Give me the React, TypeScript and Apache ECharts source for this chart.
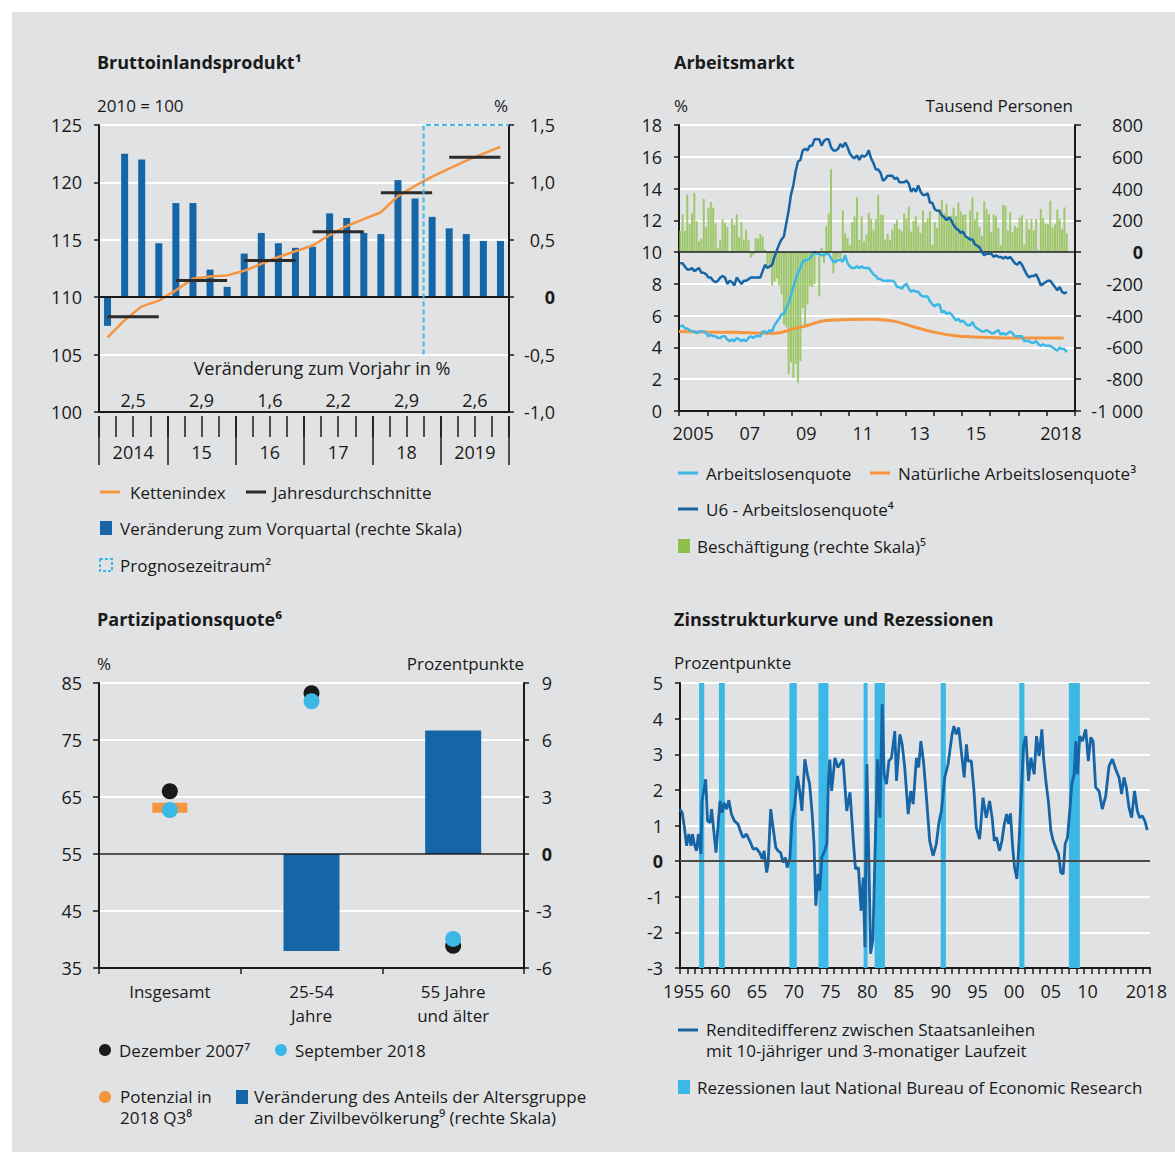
import React, { useEffect, useRef } from "react";
import * as echarts from "echarts";

const FONT = '"Open Sans", "DejaVu Sans", sans-serif';
const TXT = "#1a1a1a";
const BG = "#e1e2e4";
const DARK = "#1565a7";
const LIGHT = "#3bb8e5";
const ORANGE = "#f5953f";
const GREEN = "#8fc04c";
const AXIS = "#1a1a1a";

// ---------- Panel 1: Bruttoinlandsprodukt ----------
const gdpQuarters = [
  "Q1 2014", "Q2 2014", "Q3 2014", "Q4 2014",
  "Q1 2015", "Q2 2015", "Q3 2015", "Q4 2015",
  "Q1 2016", "Q2 2016", "Q3 2016", "Q4 2016",
  "Q1 2017", "Q2 2017", "Q3 2017", "Q4 2017",
  "Q1 2018", "Q2 2018", "Q3 2018", "Q4 2018",
  "Q1 2019", "Q2 2019", "Q3 2019", "Q4 2019",
];
const gdpYearLabels = ["2014", "15", "16", "17", "18", "2019"];
const gdpQoQ = [-0.25, 1.25, 1.2, 0.47, 0.82, 0.82, 0.24, 0.09, 0.38, 0.56, 0.47, 0.43, 0.44, 0.73, 0.69, 0.56, 0.55, 1.02, 0.86, 0.7, 0.6, 0.55, 0.49, 0.49];
const gdpIndex = [106.5, 108.0, 109.2, 109.7, 110.6, 111.6, 111.8, 111.9, 112.3, 112.9, 113.5, 114.0, 114.5, 115.4, 116.2, 116.8, 117.4, 118.8, 119.7, 120.5, 121.2, 121.9, 122.5, 123.1];
const gdpYearAvg = [108.3, 111.45, 113.2, 115.7, 119.1, 122.2];
const gdpYoY = ["2,5", "2,9", "1,6", "2,2", "2,9", "2,6"];
const forecastStartIndex = 19;

// ---------- Panel 2: Arbeitsmarkt (monthly from Jan 2005) ----------
const laborYears = ["2005", "2006", "2007", "2008", "2009", "2010", "2011", "2012", "2013", "2014", "2015", "2016", "2017", "2018"];
const laborYearLabels: Record<string, string> = { "2005": "2005", "2007": "07", "2009": "09", "2011": "11", "2013": "13", "2015": "15", "2018": "2018" };
const unemployment = [
  5.3, 5.4, 5.2, 5.2, 5.1, 5.0, 5.0, 4.9, 5.0, 5.0, 5.0, 4.9,
  4.7, 4.8, 4.7, 4.7, 4.6, 4.6, 4.7, 4.7, 4.5, 4.4, 4.5, 4.4,
  4.6, 4.5, 4.4, 4.5, 4.4, 4.6, 4.7, 4.6, 4.7, 4.7, 4.7, 5.0,
  5.0, 4.9, 5.1, 5.0, 5.4, 5.6, 5.8, 6.1, 6.1, 6.5, 6.8, 7.3,
  7.8, 8.3, 8.7, 9.0, 9.4, 9.5, 9.5, 9.6, 9.8, 10.0, 9.9, 9.9,
  9.8, 9.8, 9.9, 9.9, 9.6, 9.4, 9.4, 9.5, 9.5, 9.4, 9.8, 9.3,
  9.1, 9.0, 9.0, 9.1, 9.0, 9.1, 9.0, 9.0, 9.0, 8.8, 8.6, 8.5,
  8.3, 8.3, 8.2, 8.2, 8.2, 8.2, 8.2, 8.1, 7.8, 7.8, 7.7, 7.9,
  8.0, 7.7, 7.5, 7.6, 7.5, 7.5, 7.3, 7.2, 7.2, 7.2, 6.9, 6.7,
  6.6, 6.7, 6.7, 6.2, 6.3, 6.1, 6.2, 6.1, 5.9, 5.7, 5.8, 5.6,
  5.7, 5.5, 5.4, 5.4, 5.6, 5.3, 5.2, 5.1, 5.0, 5.0, 5.1, 5.0,
  4.9, 4.9, 5.0, 5.1, 4.8, 4.9, 4.8, 4.9, 5.0, 4.9, 4.7, 4.7,
  4.7, 4.7, 4.4, 4.4, 4.4, 4.3, 4.3, 4.4, 4.2, 4.1, 4.2, 4.1,
  4.1, 4.1, 4.0, 3.9, 3.8, 4.0, 3.9, 3.9, 3.7,
];
const u6Rate = [
  9.3, 9.3, 9.1, 8.9, 8.9, 9.0, 8.8, 8.9, 9.0, 8.7, 8.7, 8.6,
  8.4, 8.4, 8.2, 8.1, 8.2, 8.4, 8.5, 8.4, 8.0, 8.2, 8.1, 7.9,
  8.4, 8.2, 8.0, 8.2, 8.2, 8.3, 8.4, 8.4, 8.4, 8.4, 8.4, 8.8,
  9.2, 9.0, 9.1, 9.2, 9.7, 10.1, 10.5, 10.8, 11.0, 11.8, 12.6, 13.6,
  14.2, 15.1, 15.7, 15.8, 16.4, 16.5, 16.4, 16.7, 16.7, 17.1, 17.1, 17.1,
  16.7, 17.0, 17.1, 17.1, 16.6, 16.4, 16.4, 16.5, 16.8, 16.6, 16.9, 16.6,
  16.2, 16.0, 15.9, 16.1, 15.8, 16.1, 16.0, 16.1, 16.4, 15.9, 15.6, 15.2,
  15.2, 15.0, 14.5, 14.6, 14.8, 14.8, 14.8, 14.6, 14.7, 14.4, 14.4, 14.4,
  14.5, 14.3, 13.8, 14.0, 13.8, 14.2, 13.8, 13.6, 13.6, 13.7, 13.1, 13.1,
  12.7, 12.6, 12.6, 12.3, 12.2, 12.0, 12.2, 12.0, 11.7, 11.5, 11.4, 11.2,
  11.3, 11.0, 10.9, 10.8, 10.8, 10.5, 10.4, 10.3, 10.0, 9.8, 9.9, 9.9,
  9.9, 9.7, 9.8, 9.7, 9.7, 9.6, 9.7, 9.6, 9.7, 9.5, 9.3, 9.2,
  9.4, 9.2, 8.9, 8.6, 8.4, 8.5, 8.5, 8.6, 8.3, 7.9, 8.0, 8.1,
  8.2, 8.2, 8.0, 7.8, 7.6, 7.8, 7.5, 7.4, 7.5,
];
const naturalRate: [number, number][] = [
  [2005.0, 5.0], [2006.0, 4.97], [2007.0, 4.95], [2008.0, 4.9], [2008.4, 4.9], [2009.1, 5.2], [2009.57, 5.4],
  [2010.04, 5.65], [2010.5, 5.72], [2011.0, 5.76], [2011.93, 5.78], [2012.3, 5.72], [2012.64, 5.64], [2013.35, 5.27],
  [2014.05, 4.95], [2014.76, 4.74], [2015.46, 4.66], [2016.63, 4.6], [2018.6, 4.6],
];
const payrolls = [
  134, 239, 134, 363, 175, 243, 373, 194, 69, 84, 334, 157,
  277, 315, 280, 182, 23, 77, 207, 184, 157, 2, 210, 171,
  238, 93, 190, 80, 143, 75, -34, -20, 88, 84, 114, 98,
  17, -84, -78, -210, -185, -165, -209, -266, -452, -473, -769, -695,
  -791, -703, -823, -686, -351, -470, -329, -212, -219, -200, -7, -279,
  28, -69, 163, 243, 522, -133, -70, -34, -52, 262, 119, 87,
  43, 189, 225, 346, 77, 225, 69, 110, 248, 209, 141, 209,
  358, 237, 233, 78, 115, 76, 143, 177, 203, 146, 132, 244,
  211, 286, 130, 197, 226, 162, 122, 261, 190, 212, 258, 47,
  190, 151, 272, 329, 246, 304, 202, 230, 280, 227, 312, 255,
  234, 238, 86, 262, 344, 206, 254, 157, 100, 321, 272, 239,
  126, 237, 225, 153, 43, 297, 291, 135, 249, 124, 164, 155,
  216, 232, 50, 207, 145, 210, 138, 208, 14, 271, 216, 175,
  176, 324, 155, 175, 268, 208, 147, 282, 118,
];

// ---------- Panel 3: Partizipationsquote ----------
const partCategories = ["Insgesamt", "25-54\nJahre", "55 Jahre\nund älter"];
const partDec2007 = [66.0, 83.2, 38.9];
const partSep2018 = [62.7, 81.8, 40.1];
const partPotential = [63.1, null, null];
const partShareChange = [null, -5.1, 6.5];

// ---------- Panel 4: Zinsstrukturkurve ----------
const spreadYears = Array.from({ length: 64 }, (_, i) => String(1955 + i));
const spreadYearLabels: Record<string, string> = {
  "1955": "1955", "1960": "60", "1965": "65", "1970": "70", "1975": "75", "1980": "80", "1985": "85",
  "1990": "90", "1995": "95", "2000": "00", "2005": "05", "2010": "10", "2018": "2018",
};
const yieldSpread: [number, number][] = [
  [1955.0, 1.46], [1955.3, 1.36], [1955.6, 0.94], [1955.9, 0.43], [1956.2, 0.76], [1956.5, 0.43], [1956.7, 0.76], [1956.95, 0.48],
  [1957.25, 0.29], [1957.5, 0.76], [1957.85, 0.2], [1958.0, 1.69], [1958.5, 2.3], [1958.75, 1.13], [1959.1, 1.08], [1959.3, 1.46],
  [1959.6, 0.85], [1959.9, 0.24], [1960.2, 1.04], [1960.45, 1.69], [1960.75, 1.36], [1961.0, 1.64], [1961.35, 1.46], [1961.65, 1.71],
  [1962.0, 1.32], [1962.4, 1.13], [1962.9, 1.04], [1963.3, 0.8], [1963.6, 0.66], [1964.05, 0.76], [1964.5, 0.57], [1964.95, 0.34],
  [1965.4, 0.36], [1965.85, 0.24], [1966.2, 0.06], [1966.45, 0.29], [1966.8, -0.32], [1967.0, -0.08], [1967.35, 1.46], [1967.7, 0.9],
  [1968.05, 0.38], [1968.35, 0.29], [1968.7, 0.24], [1969.05, -0.04], [1969.35, 0.1], [1969.6, -0.18], [1969.95, 0.06], [1970.25, 1.13],
  [1970.6, 1.55], [1971.0, 2.39], [1971.3, 1.97], [1971.6, 1.41], [1972.0, 2.86], [1972.35, 2.44], [1972.65, 2.16], [1973.0, 1.32],
  [1973.25, 0.48], [1973.5, -1.25], [1973.8, -0.36], [1974.05, -0.83], [1974.3, 0.1], [1974.7, 0.29], [1975.0, 0.5], [1975.2, 2.2],
  [1975.4, 2.85], [1975.65, 1.97], [1976.1, 2.9], [1976.5, 2.63], [1976.8, 2.72], [1977.2, 2.86], [1977.7, 1.41], [1978.15, 1.93],
  [1978.6, 0.57], [1978.9, -0.22], [1979.3, -0.18], [1979.65, -1.39], [1979.95, -0.46], [1980.18, -2.42], [1980.45, 2.72], [1980.72, 0.01],
  [1980.95, -2.6], [1981.27, -2.2], [1981.54, 0.1], [1981.9, 2.86], [1982.22, 1.22], [1982.53, 4.4], [1982.8, 2.44], [1983.12, 2.16],
  [1983.44, 2.81], [1983.8, 2.9], [1984.25, 3.65], [1984.48, 2.25], [1984.93, 3.56], [1985.25, 3.28], [1985.6, 2.63], [1986.07, 1.32],
  [1986.43, 1.97], [1986.75, 1.6], [1987.2, 2.9], [1987.5, 2.63], [1987.8, 3.37], [1988.15, 2.81], [1988.56, 1.78], [1989.0, 0.57],
  [1989.46, 0.15], [1989.9, 0.48], [1990.23, 1.04], [1990.6, 1.41], [1991.05, 2.35], [1991.5, 2.72], [1992.05, 3.56], [1992.3, 3.79],
  [1992.6, 3.56], [1992.95, 3.75], [1993.3, 3.09], [1993.7, 2.35], [1994.0, 3.28], [1994.22, 2.81], [1994.67, 2.81], [1995.03, 1.97],
  [1995.35, 0.94], [1995.8, 0.62], [1996.26, 1.78], [1996.7, 1.22], [1997.16, 1.69], [1997.5, 1.22], [1997.8, 0.57], [1998.1, 0.66],
  [1998.5, 0.29], [1998.84, 0.57], [1999.16, 1.04], [1999.48, 1.32], [1999.75, 1.04], [2000.0, 1.34], [2000.3, 0.38], [2000.56, -0.18],
  [2000.88, -0.5], [2001.2, 0.66], [2001.42, 1.69], [2001.8, 3.28], [2002.1, 3.51], [2002.46, 2.25], [2002.78, 2.9], [2003.23, 2.44],
  [2003.55, 3.51], [2003.9, 2.95], [2004.28, 3.7], [2004.5, 2.9], [2004.82, 2.25], [2005.18, 1.64], [2005.5, 0.85], [2005.82, 0.57],
  [2006.18, 0.38], [2006.54, 0.2], [2006.86, -0.32], [2007.17, -0.36], [2007.45, 0.48], [2007.76, 0.66], [2008.08, 1.41], [2008.35, 2.16],
  [2008.67, 2.44], [2008.9, 3.37], [2009.12, 2.44], [2009.44, 3.51], [2009.8, 3.37], [2010.25, 3.7], [2010.6, 2.81], [2010.93, 3.47],
  [2011.25, 3.37], [2011.6, 2.07], [2012.06, 1.97], [2012.5, 1.46], [2012.97, 1.83], [2013.42, 2.67], [2013.88, 2.86], [2014.33, 2.58],
  [2014.78, 2.35], [2015.14, 1.88], [2015.46, 2.35], [2015.78, 2.07], [2016.14, 1.5], [2016.5, 1.22], [2016.9, 1.97], [2017.27, 1.41],
  [2017.6, 1.22], [2017.95, 1.27], [2018.3, 1.13], [2018.63, 0.87],
];
const recessions: [number, number][] = [
  [1957.6, 1958.3], [1960.3, 1961.1], [1969.9, 1970.9], [1973.85, 1975.2], [1980.0, 1980.55],
  [1981.5, 1982.9], [1990.5, 1991.2], [2001.2, 2001.9], [2007.95, 2009.45],
];

// ---------- helpers ----------
const labelStyle = (extra: any = {}) => ({ color: TXT, fontFamily: FONT, fontSize: 18, ...extra });
const boldRich = { b: { color: TXT, fontFamily: FONT, fontSize: 18, fontWeight: "bold" } };
const axisLine = { show: true, onZero: false, lineStyle: { color: AXIS, width: 2 } };
const gridLine = { show: true, lineStyle: { color: "#ffffff", width: 2 } };
const tick = (len: number) => ({ show: true, length: len, lineStyle: { color: AXIS, width: 1.5 } });
const monthX = (i: number) => 2005 + (i + 0.5) / 12;

const txt = (text: string, x: number, y: number, opts: any = {}) => ({
  type: "text",
  x,
  y,
  silent: true,
  style: {
    text,
    fill: TXT,
    fontFamily: FONT,
    fontSize: opts.fontSize ?? 17,
    fontWeight: opts.bold ? "bold" : "normal",
    align: opts.align ?? "left",
    verticalAlign: "middle",
    lineHeight: opts.lineHeight ?? 21,
  },
});
const legLine = (x: number, y: number, color: string) => ({
  type: "line", silent: true, shape: { x1: x, y1: y, x2: x + 20, y2: y }, style: { stroke: color, lineWidth: 3 },
});
const legRect = (x: number, y: number, color: string) => ({
  type: "rect", silent: true, shape: { x, y: y - 7, width: 12, height: 14 }, style: { fill: color },
});
const legDot = (x: number, y: number, color: string) => ({
  type: "circle", silent: true, shape: { cx: x, cy: y, r: 6 }, style: { fill: color },
});

function buildOption(): any {
  const grids = [
    { left: 99, top: 125, width: 410, height: 287 },
    { left: 679, top: 125, width: 396, height: 286 },
    { left: 99, top: 683, width: 425, height: 285 },
    { left: 680, top: 683, width: 470, height: 285 },
  ];

  const xAxis: any[] = [
    { gridIndex: 0, type: "category", position: "bottom", data: gdpQuarters, axisLine, axisTick: { show: false }, axisLabel: { show: false } },
    { gridIndex: 0, type: "category", position: "bottom", offset: 4, data: gdpQuarters, axisLine: { show: false, onZero: false }, axisTick: { ...tick(21), interval: 0 }, axisLabel: { show: false } },
    {
      gridIndex: 0, type: "category", position: "bottom", offset: 4, data: gdpYearLabels, axisLine: { show: false, onZero: false },
      axisTick: { ...tick(49), interval: 0 }, axisLabel: labelStyle({ interval: 0, margin: 26, lineHeight: 20 }),
    },
    { gridIndex: 0, type: "value", position: "bottom", min: 0, max: 24, show: false },
    {
      gridIndex: 0, type: "category", position: "bottom", data: gdpYearLabels, axisLine: { show: false, onZero: false }, axisTick: { show: false },
      axisLabel: labelStyle({ interval: 0, margin: -22, lineHeight: 20, formatter: (_v: string, i: number) => gdpYoY[i] }),
    },
    {
      gridIndex: 1, type: "category", position: "bottom", data: laborYears, axisLine, axisTick: { ...tick(5), interval: 0 },
      axisLabel: labelStyle({ interval: 0, margin: 12, lineHeight: 20, formatter: (v: string) => laborYearLabels[v] ?? "" }),
    },
    { gridIndex: 1, type: "value", position: "bottom", min: 2005, max: 2019, show: false },
    {
      gridIndex: 2, type: "category", position: "bottom", data: partCategories, axisLine, axisTick: { ...tick(6), interval: 0 },
      axisLabel: labelStyle({ interval: 0, margin: 11, fontSize: 17, lineHeight: 24 }),
    },
    {
      gridIndex: 3, type: "category", position: "bottom", data: spreadYears, axisLine, axisTick: { ...tick(6), interval: 0 },
      axisLabel: labelStyle({ interval: 0, margin: 13, lineHeight: 20, formatter: (v: string) => spreadYearLabels[v] ?? "" }),
    },
    { gridIndex: 3, type: "value", position: "bottom", min: 1955, max: 2019, show: false },
  ];

  const yAxis: any[] = [
    { gridIndex: 0, type: "value", position: "left", min: 100, max: 125, interval: 5, axisLine, axisTick: tick(5), splitLine: gridLine, axisLabel: labelStyle({ margin: 17 }) },
    {
      gridIndex: 0, type: "value", position: "right", min: -1, max: 1.5, interval: 0.5, axisLine, axisTick: tick(5), splitLine: { show: false },
      axisLabel: labelStyle({ align: "right", margin: 46, rich: boldRich, formatter: (v: number) => (v === 0 ? "{b|0}" : v.toFixed(1).replace(".", ",")) }),
    },
    { gridIndex: 1, type: "value", position: "left", min: 0, max: 18, interval: 2, axisLine, axisTick: tick(5), splitLine: gridLine, axisLabel: labelStyle({ margin: 17 }) },
    {
      gridIndex: 1, type: "value", position: "right", min: -1000, max: 800, interval: 200, axisLine, axisTick: tick(6), splitLine: { show: false },
      axisLabel: labelStyle({
        align: "right", margin: 68, rich: boldRich,
        formatter: (v: number) => (v === 0 ? "{b|0}" : (v < 0 ? "-" : "") + String(Math.abs(v)).replace(/\B(?=(\d{3})+(?!\d))/g, " ")),
      }),
    },
    { gridIndex: 2, type: "value", position: "left", min: 35, max: 85, interval: 10, axisLine, axisTick: tick(6), splitLine: gridLine, axisLabel: labelStyle({ margin: 17 }) },
    {
      gridIndex: 2, type: "value", position: "right", min: -6, max: 9, interval: 3, axisLine, axisTick: tick(5), splitLine: { show: false },
      axisLabel: labelStyle({ align: "right", margin: 28, rich: boldRich, formatter: (v: number) => (v === 0 ? "{b|0}" : String(v)) }),
    },
    {
      gridIndex: 3, type: "value", position: "left", min: -3, max: 5, interval: 1, axisLine, axisTick: tick(5), splitLine: gridLine,
      axisLabel: labelStyle({ margin: 17, rich: boldRich, formatter: (v: number) => (v === 0 ? "{b|0}" : String(v)) }),
    },
  ];

  const zeroLine = (color: string, width: number) => ({
    silent: true, symbol: "none", label: { show: false }, lineStyle: { color, width, type: "solid" }, data: [{ yAxis: 0 }],
  });

  const series: any[] = [
    {
      name: "Veränderung zum Vorquartal", type: "bar", xAxisIndex: 0, yAxisIndex: 1, data: gdpQoQ, barWidth: 7,
      itemStyle: { color: DARK }, z: 2, markLine: zeroLine(AXIS, 2),
    },
    {
      name: "Kettenindex", type: "line", xAxisIndex: 0, yAxisIndex: 0, data: gdpIndex, showSymbol: false,
      lineStyle: { color: ORANGE, width: 2.5 }, itemStyle: { color: ORANGE }, z: 4,
    },
    ...gdpYearAvg.map((v, i) => ({
      name: "Jahresdurchschnitte", type: "line", xAxisIndex: 3, yAxisIndex: 0, showSymbol: false,
      data: [[i * 4 + 0.5, v], [i * 4 + 3.5, v]], lineStyle: { color: "#2b2b2b", width: 3 }, z: 5,
    })),
    {
      name: "Prognosezeitraum", type: "line", xAxisIndex: 3, yAxisIndex: 0, showSymbol: false,
      data: [[forecastStartIndex, 105], [forecastStartIndex, 125], [24, 125]],
      lineStyle: { color: LIGHT, width: 2, type: [5, 3] }, z: 6,
    },
    {
      name: "Beschäftigung", type: "bar", xAxisIndex: 6, yAxisIndex: 3, barWidth: 2,
      data: payrolls.map((v, i) => [monthX(i), v]), itemStyle: { color: GREEN, opacity: 0.8 }, z: 2,
      markLine: zeroLine(AXIS, 1.5),
    },
    {
      name: "Natürliche Arbeitslosenquote", type: "line", xAxisIndex: 6, yAxisIndex: 2, smooth: 0.4, showSymbol: false,
      data: naturalRate, lineStyle: { color: ORANGE, width: 3 }, z: 3,
    },
    {
      name: "Arbeitslosenquote", type: "line", xAxisIndex: 6, yAxisIndex: 2, showSymbol: false,
      data: unemployment.map((v, i) => [monthX(i), v]), lineStyle: { color: LIGHT, width: 2.5 }, z: 4,
    },
    {
      name: "U6 - Arbeitslosenquote", type: "line", xAxisIndex: 6, yAxisIndex: 2, showSymbol: false,
      data: u6Rate.map((v, i) => [monthX(i), v]), lineStyle: { color: DARK, width: 2.5 }, z: 5,
    },
    {
      name: "Veränderung des Anteils", type: "bar", xAxisIndex: 7, yAxisIndex: 5, data: partShareChange, barWidth: 56,
      itemStyle: { color: DARK }, z: 2, markLine: zeroLine(AXIS, 1.5),
    },
    {
      name: "Potenzial", type: "scatter", xAxisIndex: 7, yAxisIndex: 4, data: partPotential, symbol: "rect",
      symbolSize: [35, 10], itemStyle: { color: ORANGE, opacity: 1 }, z: 3,
    },
    {
      name: "Dezember 2007", type: "scatter", xAxisIndex: 7, yAxisIndex: 4, data: partDec2007, symbolSize: 16,
      itemStyle: { color: "#1a1a1a", opacity: 1 }, z: 4,
    },
    {
      name: "September 2018", type: "scatter", xAxisIndex: 7, yAxisIndex: 4, data: partSep2018, symbolSize: 16,
      itemStyle: { color: LIGHT, opacity: 1 }, z: 5,
    },
    {
      name: "Rezessionen", type: "custom", xAxisIndex: 9, yAxisIndex: 6, data: recessions, z: 1,
      renderItem: (_p: any, api: any) => {
        const a = api.coord([api.value(0), 5]);
        const b = api.coord([api.value(1), -3]);
        return { type: "rect", shape: { x: a[0], y: a[1], width: b[0] - a[0], height: b[1] - a[1] }, style: { fill: LIGHT } };
      },
    },
    {
      name: "Renditedifferenz", type: "line", xAxisIndex: 9, yAxisIndex: 6, showSymbol: false, data: yieldSpread,
      lineStyle: { color: DARK, width: 2.8 }, z: 3, markLine: zeroLine("#4a4a4a", 2),
    },
  ];

  const graphic: any[] = [
    txt("Bruttoinlandsprodukt¹", 97, 62, { bold: true, fontSize: 18 }),
    txt("Arbeitsmarkt", 674, 62, { bold: true, fontSize: 18 }),
    txt("Partizipationsquote⁶", 97, 619, { bold: true, fontSize: 18 }),
    txt("Zinsstrukturkurve und Rezessionen", 674, 619, { bold: true, fontSize: 18 }),
    txt("2010 = 100", 97, 105, { fontSize: 17 }),
    txt("%", 508, 105, { fontSize: 17, align: "right" }),
    txt("%", 674, 105, { fontSize: 17 }),
    txt("Tausend Personen", 1073, 105, { fontSize: 17, align: "right" }),
    txt("%", 97, 663, { fontSize: 17 }),
    txt("Prozentpunkte", 524, 663, { fontSize: 17, align: "right" }),
    txt("Prozentpunkte", 674, 662, { fontSize: 17 }),
    txt("Veränderung zum Vorjahr in %", 322, 368, { fontSize: 18, align: "center" }),
    legLine(100, 492, ORANGE), txt("Kettenindex", 130, 492),
    legLine(246, 492, "#2b2b2b"), txt("Jahresdurchschnitte", 273, 492),
    legRect(100, 528, DARK), txt("Veränderung zum Vorquartal (rechte Skala)", 120, 528),
    { type: "rect", silent: true, shape: { x: 100, y: 559, width: 12, height: 12 }, style: { fill: "none", stroke: LIGHT, lineWidth: 2, lineDash: [3, 2] } },
    txt("Prognosezeitraum²", 120, 565),
    legLine(678, 473, LIGHT), txt("Arbeitslosenquote", 706, 473),
    legLine(870, 473, ORANGE), txt("Natürliche Arbeitslosenquote³", 898, 473),
    legLine(678, 509, DARK), txt("U6 - Arbeitslosenquote⁴", 706, 509),
    legRect(678, 546, GREEN), txt("Beschäftigung (rechte Skala)⁵", 697, 546),
    legDot(105, 1050, "#1a1a1a"), txt("Dezember 2007⁷", 119, 1050),
    legDot(281, 1050, LIGHT), txt("September 2018", 295, 1050),
    legDot(105, 1097, ORANGE), txt("Potenzial in\n2018 Q3⁸", 120, 1107),
    legRect(236, 1097, DARK), txt("Veränderung des Anteils der Altersgruppe\nan der Zivilbevölkerung⁹ (rechte Skala)", 254, 1107),
    legLine(678, 1030, DARK), txt("Renditedifferenz zwischen Staatsanleihen\nmit 10-jähriger und 3-monatiger Laufzeit", 706, 1040),
    legRect(678, 1087, LIGHT), txt("Rezessionen laut National Bureau of Economic Research", 697, 1087),
  ];

  return {
    animation: false,
    backgroundColor: "transparent",
    textStyle: { fontFamily: FONT },
    grid: grids,
    xAxis,
    yAxis,
    series,
    graphic,
  };
}

export default function App() {
  const ref = useRef<HTMLDivElement>(null);
  useEffect(() => {
    if (!ref.current) return;
    const chart = echarts.init(ref.current, null, { renderer: "svg" });
    chart.setOption(buildOption());
    return () => chart.dispose();
  }, []);
  return (
    <div style={{ position: "absolute", left: 0, top: 0, width: 1175, height: 1154, background: "#ffffff", overflow: "hidden" }}>
      <div style={{ position: "absolute", left: 12, top: 12, width: 1163, height: 1140, background: BG }} />
      <div ref={ref} style={{ position: "absolute", left: 0, top: 0, width: 1175, height: 1154 }} />
    </div>
  );
}
